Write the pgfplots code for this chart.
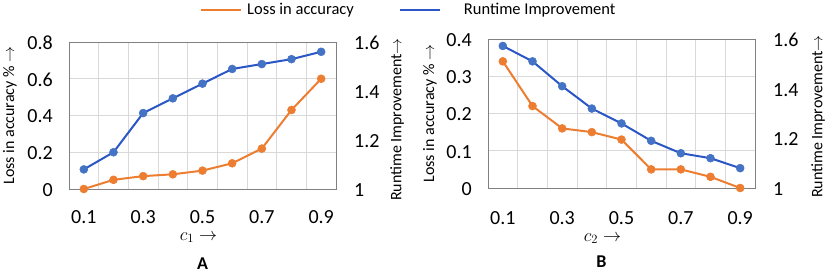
\RequirePackage{fix-cm}
\documentclass[border=0pt]{standalone}
\usepackage{fontspec}
\setmainfont{Carlito}
\usepackage{pgfplots}
\pgfplotsset{compat=1.18}
\definecolor{orangeL}{HTML}{ED7D31}
\definecolor{orangeM}{HTML}{ED7D31}
\definecolor{blueL}{HTML}{2A56C6}
\definecolor{blueM}{HTML}{4472C4}
\definecolor{gridc}{HTML}{D9D9D9}
\definecolor{framec}{HTML}{808080}

\pgfplotsset{
  panel/.style={
    scale only axis, width=267bp,
    xmin=0.05, xmax=0.95,
    xtick={0.1,0.3,0.5,0.7,0.9},
    xticklabels={0.1,0.3,0.5,0.7,0.9},
    minor xtick={0.15,0.25,0.35,0.45,0.55,0.65,0.75,0.85},
    xminorgrids, ymajorgrids,
    minor grid style={gridc, line width=0.8bp},
    major grid style={gridc, line width=0.8bp},
    major tick length=0pt, minor tick length=0pt,
    axis line style={framec, line width=0.9bp},
    tick label style={font=\fontsize{20bp}{23bp}\selectfont, inner sep=0pt},
    /pgf/number format/assume math mode=true,
    yticklabel style={anchor=east, xshift=-16bp, yshift=-1bp},
    label style={font=\fontsize{16bp}{19bp}\selectfont, inner sep=0pt},
    clip=false,
  },
  rightpanel/.style={
    scale only axis, width=267bp,
    xmin=0.05, xmax=0.95,
    axis x line=none,
    axis y line*=right,
    ymin=1, ymax=1.6,
    ytick={1,1.2,1.4,1.6},
    yticklabels={1,1.2,1.4,1.6},
    major tick length=0pt, minor tick length=0pt,
    axis line style={framec, line width=0.9bp},
    tick label style={font=\fontsize{20bp}{23bp}\selectfont, inner sep=0pt},
    /pgf/number format/assume math mode=true,
    yticklabel style={anchor=west, xshift=18bp, yshift=-1bp},
    label style={font=\fontsize{16bp}{19bp}\selectfont, inner sep=0pt},
    clip=false,
  },
  orangeplot/.style={orangeL, line width=2bp, mark=*, mark size=4bp, mark options={fill=orangeM, draw=orangeM, line width=0.5bp}},
  blueplot/.style={blueL, line width=2bp, mark=*, mark size=4bp, mark options={fill=blueM, draw=blueM, line width=0.5bp}},
}

\begin{document}
\begin{tikzpicture}
\useasboundingbox (0,0) rectangle (829bp,276bp);

% ---------------- Panel A ----------------
\begin{axis}[panel, height=147bp, at={(69bp,87bp)}, anchor=south west,
  ymin=0, ymax=0.8,
  ytick={0,0.2,0.4,0.6,0.8},
  yticklabels={0,0.2,0.4,0.6,0.8},
  xticklabel style={anchor=base, yshift=-34bp},
  ylabel={Loss in accuracy \% $\rightarrow$},
  ylabel style={at={([xshift=-52bp]axis description cs:0,0.5)}, anchor=south},
  xlabel={$c_1\rightarrow$},
  xlabel style={font=\fontsize{18bp}{20bp}\selectfont, at={([xshift=-4bp,yshift=-51bp]axis description cs:0.5,0)}, anchor=base},
  legend style={at={(axis description cs:0.4906,1.2177)}, anchor=west,
    legend columns=2, draw=none, fill=none, inner sep=0pt,
    font=\fontsize{16.5bp}{19bp}\selectfont,
    nodes={inner sep=0pt}},
  legend image code/.code={\draw[#1] (0bp,0bp) -- (40bp,0bp);},
]
\addplot[orangeplot] coordinates {
  (0.1,0.00) (0.2,0.05) (0.3,0.07) (0.4,0.08) (0.5,0.10)
  (0.6,0.14) (0.7,0.22) (0.8,0.43) (0.9,0.60)};
\addlegendentry{\hspace*{5bp}Loss in accuracy\hspace*{45bp}}
\addlegendimage{blueL, line width=2bp}
\addlegendentry{\hspace*{23bp}Runtime Improvement}
\node[anchor=base, font=\bfseries\fontsize{18bp}{20bp}\selectfont, inner sep=0pt]
  at ([yshift=-80bp]axis description cs:0.5,0) {A};
\end{axis}
\begin{axis}[rightpanel, height=147bp, at={(69bp,87bp)}, anchor=south west,
  ylabel={Runtime Improvement$\rightarrow$},
  ylabel style={at={([xshift=54bp,yshift=-4bp]axis description cs:1,0.5)}, anchor=north},
]
\addplot[blueplot] coordinates {
  (0.1,1.08) (0.2,1.15) (0.3,1.31) (0.4,1.37) (0.5,1.43)
  (0.6,1.49) (0.7,1.51) (0.8,1.53) (0.9,1.56)};
\end{axis}

% ---------------- Panel B ----------------
\begin{axis}[panel, height=149bp, at={(488bp,88bp)}, anchor=south west,
  ymin=0, ymax=0.4,
  ytick={0,0.1,0.2,0.3,0.4},
  yticklabels={0,0.1,0.2,0.3,0.4},
  xticklabel style={anchor=base, yshift=-36bp},
  ylabel={Loss in accuracy \% $\rightarrow$},
  ylabel style={at={([xshift=-51bp]axis description cs:0,0.5)}, anchor=south},
  xlabel={$c_2\rightarrow$},
  xlabel style={font=\fontsize{18bp}{20bp}\selectfont, at={([xshift=-19bp,yshift=-53bp]axis description cs:0.5,0)}, anchor=base},
]
\addplot[orangeplot] coordinates {
  (0.1,0.34) (0.2,0.22) (0.3,0.16) (0.4,0.15) (0.5,0.13)
  (0.6,0.05) (0.7,0.05) (0.8,0.03) (0.9,0.00)};
\node[anchor=base, font=\bfseries\fontsize{18bp}{20bp}\selectfont, inner sep=0pt]
  at ([xshift=-20bp,yshift=-79bp]axis description cs:0.5,0) {B};
\end{axis}
\begin{axis}[rightpanel, height=149bp, at={(488bp,88bp)}, anchor=south west,
  ylabel={Runtime Improvement$\rightarrow$},
  ylabel style={at={([xshift=56bp,yshift=-3bp]axis description cs:1,0.5)}, anchor=north},
]
\addplot[blueplot] coordinates {
  (0.1,1.572) (0.2,1.51) (0.3,1.41) (0.4,1.32) (0.5,1.26)
  (0.6,1.19) (0.7,1.14) (0.8,1.12) (0.9,1.08)};
\end{axis}
\end{tikzpicture}
\end{document}
